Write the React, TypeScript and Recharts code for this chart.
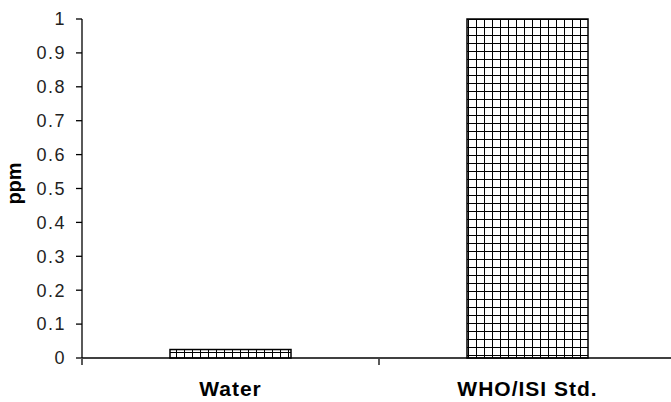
import { BarChart, Bar, XAxis, YAxis, Label } from 'recharts';

const categories = ['Water', 'WHO/ISI Std.'];
const ppmValues = [0.025, 1];
const yTicks = [0, 0.1, 0.2, 0.3, 0.4, 0.5, 0.6, 0.7, 0.8, 0.9, 1];
const boundaryTicks = [0, 1, 2];

const patternIds = ['waterFill', 'stdFill'];

const data = categories.map((name, i) => ({ name, ppm: ppmValues[i], idx: i + 0.5 }));

function fmt(v: number): string {
  return String(Math.round(v * 10) / 10);
}

function BarShape(props: any) {
  const { x, y, width, height, index } = props;
  return (
    <rect
      x={x}
      y={y}
      width={width}
      height={height}
      fill={`url(#${patternIds[index]})`}
      stroke="#000"
      strokeWidth={1.5}
    />
  );
}

export default function App() {
  return (
    <div
      style={{
        position: 'fixed',
        left: 0,
        top: 0,
        width: 671,
        height: 402,
        overflow: 'hidden',
        background: '#fff',
        fontFamily: '"Liberation Sans", Arial, sans-serif',
      }}
    >
      <BarChart
        width={690}
        height={402}
        data={data}
        margin={{ top: 19, right: 14, left: 0, bottom: 0 }}
        barSize={121}
      >
        <defs>
          <pattern id="waterFill" patternUnits="userSpaceOnUse" width="8" height="8" x="0" y="0">
            <rect width="8" height="8" fill="#fff" />
            <path d="M0 0 L0 8 M0 0 L8 0" stroke="#000" strokeWidth="2" />
          </pattern>
          <pattern id="stdFill" patternUnits="userSpaceOnUse" width="8" height="8" x="4" y="3">
            <rect width="8" height="8" fill="#fff" />
            <path d="M0 0 L0 8 M0 0 L8 0" stroke="#000" strokeWidth="2" />
          </pattern>
        </defs>
        <XAxis
          dataKey="name"
          tickLine={false}
          axisLine={{ stroke: '#000', strokeWidth: 1.3 }}
          tickMargin={17}
          height={1}
          interval={0}
          tick={{ fontSize: 21, fontWeight: 'bold', fill: '#000', letterSpacing: 1 }}
        />
        <XAxis
          xAxisId="edges"
          type="number"
          dataKey="idx"
          domain={[0, 2]}
          ticks={boundaryTicks}
          tick={() => <g />}
          tickSize={6}
          axisLine={false}
          tickLine={{ stroke: '#000', strokeWidth: 1.3 }}
          height={43}
        />
        <YAxis
          domain={[0, 1]}
          ticks={yTicks}
          tickFormatter={fmt}
          width={82}
          tickSize={6}
          tickMargin={10}
          axisLine={{ stroke: '#000', strokeWidth: 1.3 }}
          tickLine={{ stroke: '#000', strokeWidth: 1.3 }}
          tick={{ fontSize: 18, fill: '#222', letterSpacing: 1.5 }}
        >
          <Label
            value="ppm"
            angle={-90}
            position="insideLeft"
            offset={14}
            dy={-5}
            style={{ fontSize: 20, fontWeight: 'bold', fill: '#000', textAnchor: 'middle' }}
          />
        </YAxis>
        <Bar dataKey="ppm" shape={BarShape} isAnimationActive={false} />
      </BarChart>
    </div>
  );
}
